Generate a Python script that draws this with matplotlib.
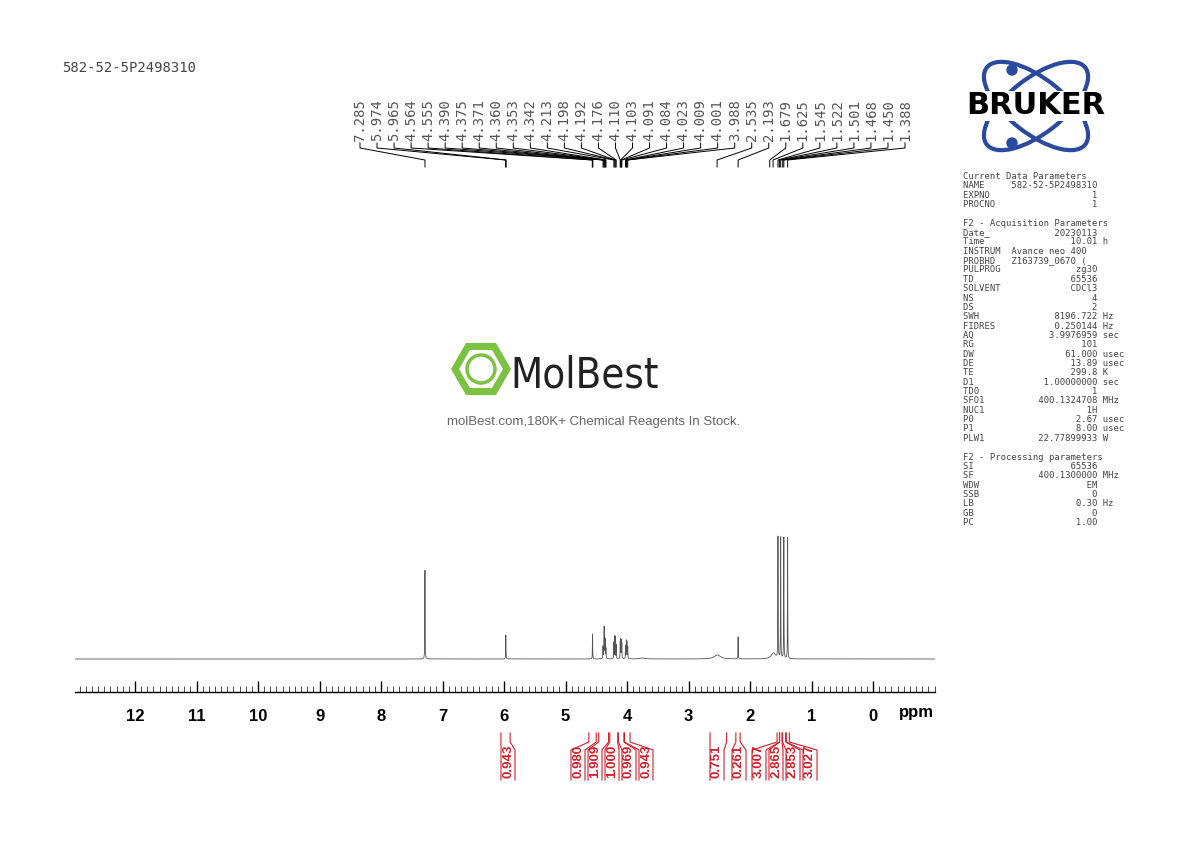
import numpy as np
import matplotlib
matplotlib.use("Agg")
import matplotlib.pyplot as plt
from matplotlib.patches import Ellipse, RegularPolygon, Circle

# ---- data ----
peak_labels = ["7.285","5.974","5.965","4.564","4.555","4.390","4.375","4.371","4.360","4.353",
               "4.342","4.213","4.198","4.192","4.176","4.110","4.103","4.091","4.084","4.023",
               "4.009","4.001","3.988","2.535","2.193","1.679","1.625","1.545","1.522","1.501",
               "1.468","1.450","1.388"]
peak_ppm = [7.285,5.970,4.560,4.390,4.375,4.371,4.360,4.353,4.342,4.213,4.198,4.192,4.176,
            4.110,4.103,4.091,4.084,4.023,4.009,4.001,3.988,2.193,1.545,1.501,1.450,1.388]
peak_h = [89,24,25,12,16,27,14,18,10,16,20,19,14,15,18,17,14,13,17,16,12,22,121,121,121,121]
hump_ppm = [2.53, 1.62, 3.75]
hump_h = [4, 6, 1]
hump_w = [0.06, 0.04, 0.05]
integ_vals = ["0.943","0.980","1.909","1.000","0.969","0.943","0.751","0.261","3.007","2.865","2.853","3.027"]
integ_rng = [(6.05,5.90),(4.62,4.50),(4.46,4.30),(4.28,4.15),(4.14,4.05),(4.04,3.95),
             (2.65,2.38),(2.23,2.16),(1.56,1.52),(1.52,1.48),(1.47,1.42),(1.41,1.36)]
integ_x = [508,578,595,612,629,646,717,739,759,776,793,810]
ticks = list(range(0,13))

params = """Current Data Parameters
NAME     582-52-5P2498310
EXPNO                   1
PROCNO                  1

F2 - Acquisition Parameters
Date_            20230113
Time                10.01 h
INSTRUM  Avance neo 400
PROBHD   Z163739_0670 (
PULPROG              zg30
TD                  65536
SOLVENT             CDCl3
NS                      4
DS                      2
SWH              8196.722 Hz
FIDRES           0.250144 Hz
AQ              3.9976959 sec
RG                    101
DW                 61.000 usec
DE                  13.89 usec
TE                  299.8 K
D1             1.00000000 sec
TD0                     1
SFO1          400.1324708 MHz
NUC1                   1H
P0                   2.67 usec
P1                   8.00 usec
PLW1          22.77899933 W

F2 - Processing parameters
SI                  65536
SF            400.1300000 MHz
WDW                    EM
SSB                     0
LB                   0.30 Hz
GB                      0
PC                   1.00"""

def px(ppm):
    return 873 - 61.5 * ppm

fig = plt.figure(figsize=(11.9, 8.42), dpi=100)
ov = fig.add_axes([0, 0, 1, 1])
ov.set_xlim(0, 1190); ov.set_ylim(842, 0); ov.axis("off")

x0, x1 = 75, 935
ybot, ytop = 692, 530
ax = fig.add_axes([x0/1190, 1-ybot/842, (x1-x0)/1190, (ybot-ytop)/842])
ax.patch.set_alpha(0)
pl, pr = (873-x0)/61.5, (873-x1)/61.5
ax.set_xlim(pl, pr); ax.set_ylim(0, ybot-ytop)
xs = np.linspace(pr, pl, 40000)
ys = np.full_like(xs, 33.0)
w = 0.0025
for p, h in zip(peak_ppm, peak_h):
    ys += h * w**2 / ((xs-p)**2 + w**2)
for p, h, ww in zip(hump_ppm, hump_h, hump_w):
    ys += h * ww**2 / ((xs-p)**2 + ww**2)
ax.plot(xs, ys, color="#555555", lw=0.6)
for s in ["top", "left", "right"]:
    ax.spines[s].set_visible(False)
ax.spines["bottom"].set_linewidth(1.0)
ax.set_yticks([])
ax.set_xticks(ticks)
ax.set_xticklabels([str(t) for t in ticks], fontweight="bold", fontsize=12, family="Liberation Sans")
ax.set_xticks(np.arange(-1.0, 13.0, 0.1), minor=True)
ax.tick_params(axis="x", which="major", direction="in", length=8, width=1, pad=12)
ax.tick_params(axis="x", which="minor", direction="in", length=4, width=0.5)
ov.text(916, 713, "ppm", fontsize=12, fontweight="bold", ha="center", va="center", family="Liberation Sans")

# peak labels
n = len(peak_labels)
lx = np.linspace(360, 905, n)
label_ppm = [float(s) for s in peak_labels]
for i, (s, p) in enumerate(zip(peak_labels, label_ppm)):
    ov.text(lx[i], 141, s, rotation=90, ha="center", va="bottom", fontsize=10,
            family="DejaVu Sans Mono", color="#555555")
    t = px(p)
    ov.plot([lx[i], lx[i], t, t], [143, 148, 160, 167], color="black", lw=0.7)

# integrals
for v, (a, b), xl in zip(integ_vals, integ_rng, integ_x):
    xa, xb = px(a), px(b)
    ov.plot([xa, xa, xl-7, xl-7], [733, 742, 750, 780], color="#d0202a", lw=0.8)
    ov.plot([xb, xb, xl+7, xl+7], [733, 742, 750, 780], color="#d0202a", lw=0.8)
    ov.text(xl, 778, v, rotation=90, ha="center", va="bottom", fontsize=9.5,
            fontweight="bold", color="#d0202a", family="Liberation Sans")

ov.text(62, 68, "582-52-5P2498310", fontsize=10, family="DejaVu Sans Mono", va="center", color="#444444")

ov.text(963, 172, params, fontsize=6.4, family="DejaVu Sans Mono", va="top", ha="left",
        color="#444444", linespacing=1.05)

# Bruker logo
blue = "#2a4aa0"
for ang in (38, -38):
    ov.add_patch(Ellipse((1036, 106), 125, 55, angle=ang, fill=False, ec=blue, lw=3))
ov.add_patch(Circle((1012, 70), 5, color=blue))
ov.add_patch(Circle((1012, 143), 5, color=blue))
ov.text(1036, 106, "BRUKER", fontsize=22, fontweight="heavy", ha="center", va="center",
        family="DejaVu Sans", color="black",
        bbox=dict(fc="white", ec="none", pad=0.2))

# MolBest watermark
green = "#7cc242"
ov.add_patch(RegularPolygon((481, 369), 6, radius=26, orientation=np.pi/6, fill=False, ec=green, lw=5))
ov.add_patch(Circle((481, 369), 14, fill=False, ec=green, lw=2.5))
ov.text(510, 376, "MolBest", fontsize=30, ha="left", va="center", family="DejaVu Sans",
        color="#222222", fontstretch="condensed")
ov.text(594, 422, "molBest.com,180K+ Chemical Reagents In Stock.", fontsize=9.5, ha="center",
        va="center", color="#666666", family="Liberation Sans")

fig.savefig("out.png", dpi=100)
